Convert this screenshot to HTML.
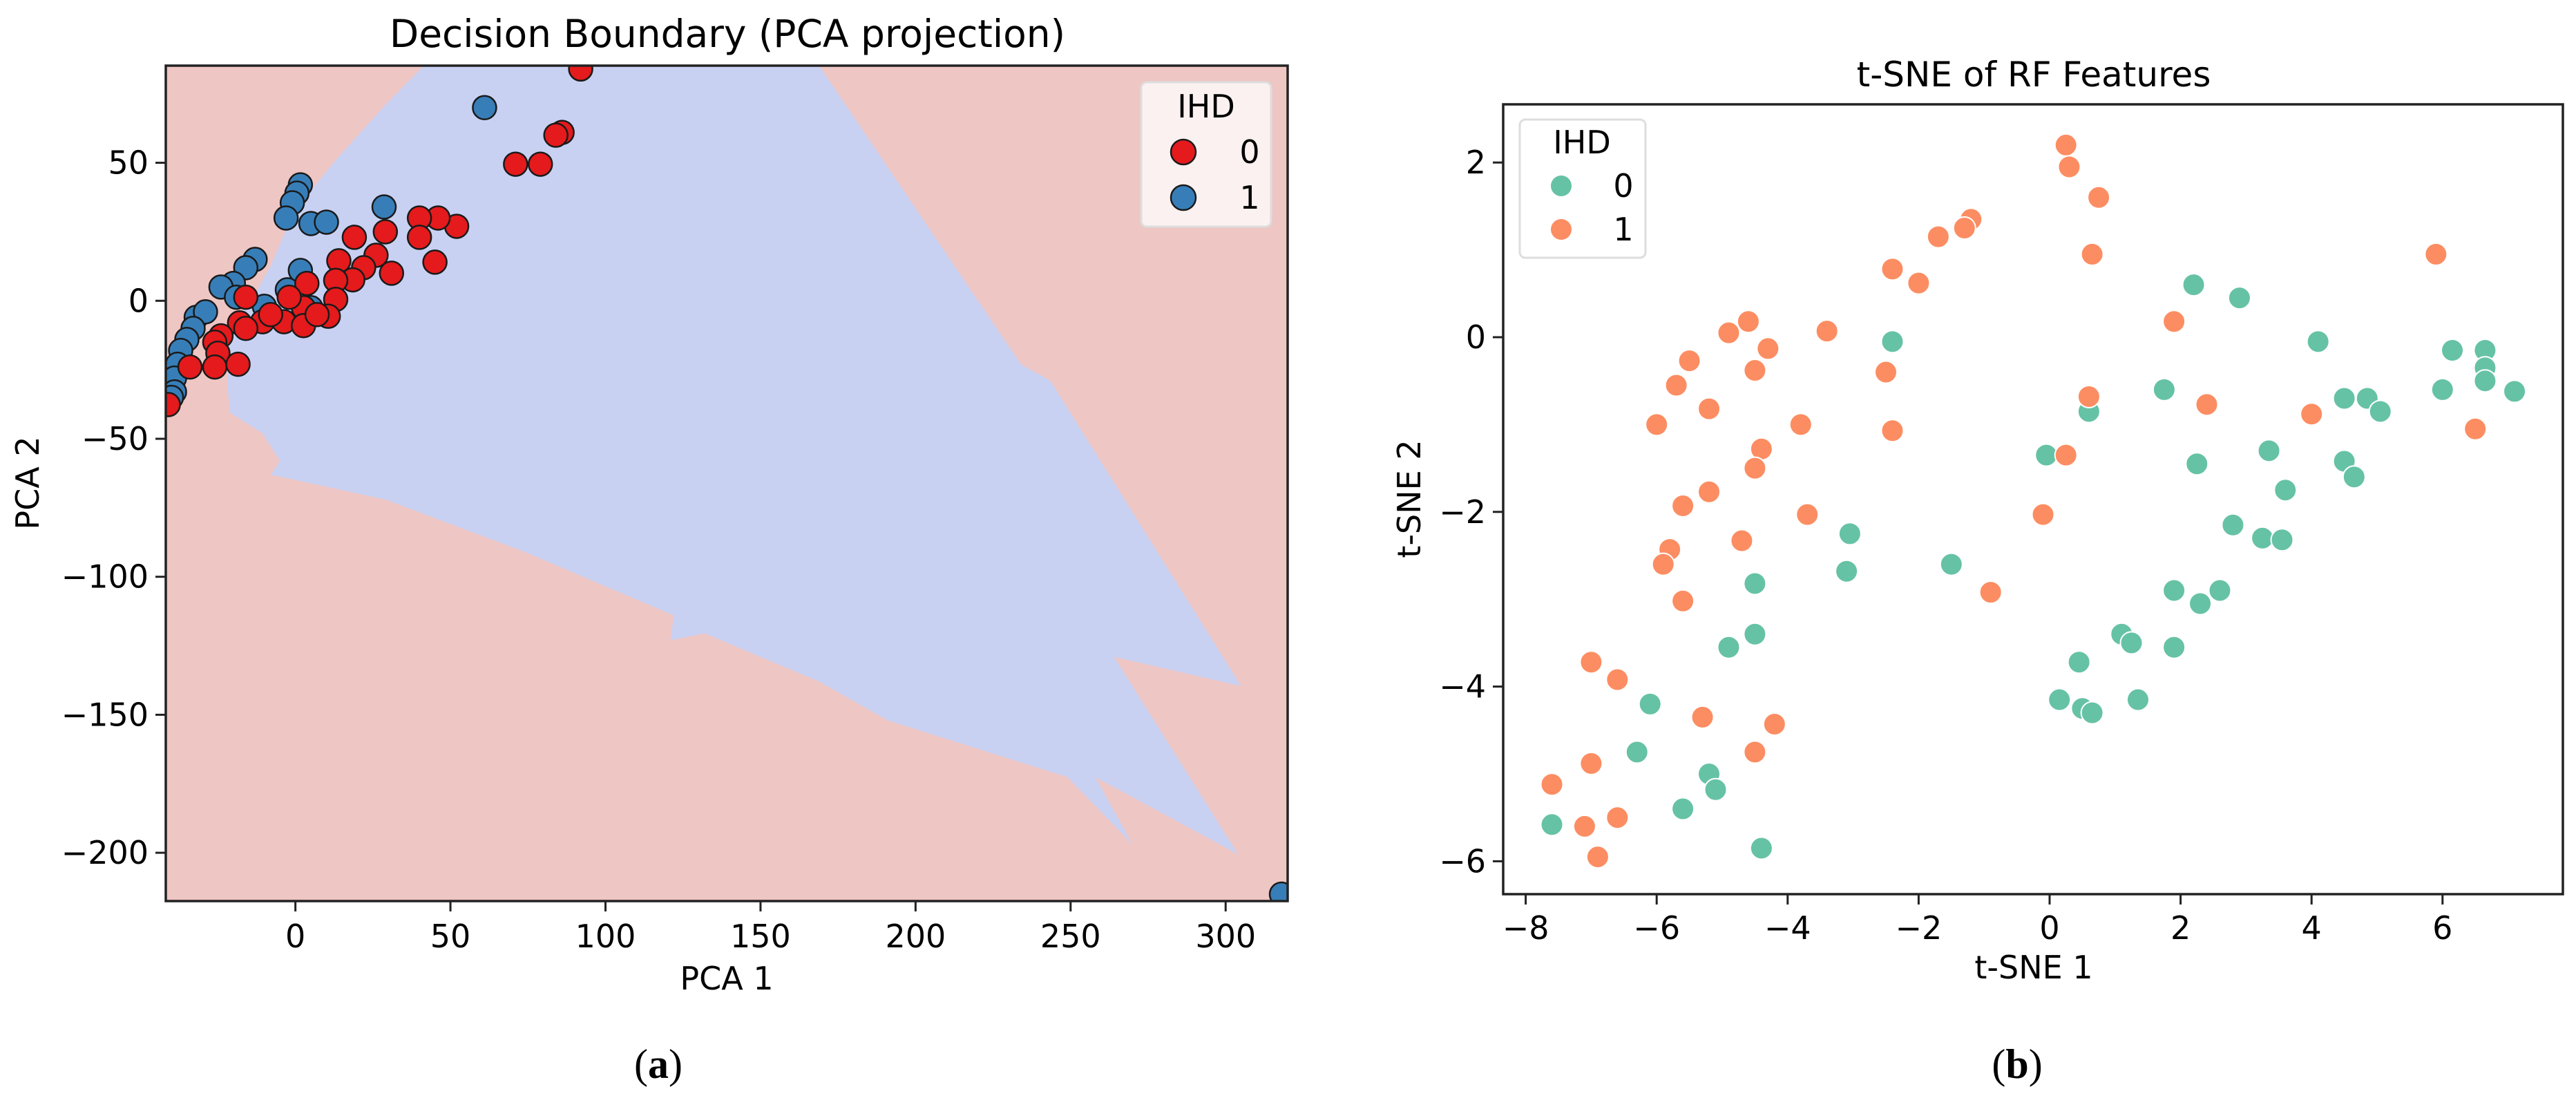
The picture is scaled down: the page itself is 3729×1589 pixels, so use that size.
<!DOCTYPE html>
<html><head><meta charset="utf-8"><style>
html,body{margin:0;padding:0;background:#fff;}
svg{display:block;font-family:"DejaVu Sans","Liberation Sans",sans-serif;}
</style></head><body>
<svg id="fig" width="3729" height="1589" viewBox="0 0 3729 1589" xmlns="http://www.w3.org/2000/svg">
<g id="pa"></g>
<g id="pb"></g>
<text x="953" y="1560" font-family="Liberation Serif, serif" font-size="60" text-anchor="middle">(<tspan font-weight="bold">a</tspan>)</text>
<text x="2920" y="1560" font-family="Liberation Serif, serif" font-size="60" text-anchor="middle">(<tspan font-weight="bold">b</tspan>)</text>
</svg>
<script>
// ---------- Panel A data ----------
const aXTicks = [0, 50, 100, 150, 200, 250, 300];
const aYTicks = [50, 0, -50, -100, -150, -200];
const aRedX = [92,86,84,71,79,52,46,40,40,45,29,19,26,31,22,18.5,14,13,13,10.6,3.7,2.6,-2,-3.7,2.6,-10.6,-16,-18,-24,-26,-25,-26,-34,-18.5,-41,-8,7,-16];
const aRedY = [84,61,60,49.5,49.5,27,30,30,23,14,25,23,16.5,10,12,7.6,14.5,7.4,0.5,-5.6,6.3,-2.5,1.3,-7.6,-9,-7.6,1.3,-8,-12.7,-15,-19,-24,-24,-23,-37.6,-5,-5,-10];
const aBlueX = [61,1.6,0.5,-1,-3,5,10,28.6,-13,-16,1.6,-20,-24,-19,-32,-29,-33,-35,-37,-38,-39,-39,-40,-2.6,5,-10,318];
const aBlueY = [70,42,39,35.5,30,28,28.5,34,15,12,11,6.3,5,1.3,-6,-4,-10,-14,-18,-23,-28,-33,-35,4,-2.5,-2,-215];
const regionX = [41.3,29,13,0,-4,-8,-13,-21,-22,-21,-10.6,-5,-8,29,74,122,121,132,169,191,249,270,258,304,264,305,243.5,234,169];
const regionY = [85,71,51,33,23,12.7,2.5,-10,-30.5,-40.6,-48,-58,-63,-72,-91,-114,-123,-120.5,-138,-152,-172.6,-197,-172.6,-200.5,-129,-139.6,-29,-23,85];

// ---------- Panel B data ----------
const bXTicks = [-8, -6, -4, -2, 0, 2, 4, 6];
const bYTicks = [2, 0, -2, -4, -6];
const bOrangeX = [0.25,0.3,0.75,0.65,-1.2,-1.3,-1.7,-2.4,-2.0,5.9,1.9,-3.4,-4.6,-4.9,-4.3,-4.5,-5.5,-5.7,-2.5,-2.4,0.6,2.4,-5.2,-6.0,-3.8,4.0,6.5,-4.4,0.25,-4.5,-5.2,-5.6,-3.7,-0.1,-4.7,-5.8,-5.9,-5.6,-0.9,-7.0,-6.6,-5.3,-4.2,-4.5,-7.0,-7.6,-7.1,-6.6,-6.9];
const bOrangeY = [2.2,1.95,1.6,0.95,1.35,1.25,1.15,0.78,0.62,0.95,0.18,0.07,0.18,0.05,-0.13,-0.38,-0.27,-0.55,-0.4,-1.07,-0.68,-0.77,-0.82,-1.0,-1.0,-0.88,-1.05,-1.28,-1.35,-1.5,-1.77,-1.93,-2.03,-2.03,-2.33,-2.43,-2.6,-3.02,-2.92,-3.72,-3.92,-4.35,-4.43,-4.75,-4.88,-5.12,-5.6,-5.5,-5.95];
const bGreenX = [2.2,2.9,-2.4,4.1,6.15,6.65,6.65,6.65,7.1,6.0,1.75,4.5,4.85,5.05,0.6,-0.05,3.35,2.25,4.5,4.65,3.6,2.8,3.25,3.55,-3.05,-3.1,-1.5,1.9,2.6,2.3,-4.5,-4.5,-4.9,1.1,1.25,1.9,0.45,0.15,0.5,0.65,1.35,-6.1,-6.3,-5.2,-5.1,-5.6,-7.6,-4.4];
const bGreenY = [0.6,0.45,-0.05,-0.05,-0.15,-0.15,-0.35,-0.5,-0.62,-0.6,-0.6,-0.7,-0.7,-0.85,-0.85,-1.35,-1.3,-1.45,-1.42,-1.6,-1.75,-2.15,-2.3,-2.32,-2.25,-2.68,-2.6,-2.9,-2.9,-3.05,-2.82,-3.4,-3.55,-3.4,-3.5,-3.55,-3.72,-4.15,-4.25,-4.3,-4.15,-4.2,-4.75,-5.0,-5.18,-5.4,-5.58,-5.85];

const NS = "http://www.w3.org/2000/svg";
function mk(tag, attrs, parent) {
  const e = document.createElementNS(NS, tag);
  for (const k in attrs) e.setAttribute(k, attrs[k]);
  parent.appendChild(e);
  return e;
}

// ---------- Panel A ----------
const A = {L:240, R:1864, T:95, B:1304, x0:-41.8, x1:320, y0:-217.5, y1:85.2};
const ax = v => A.L + (v - A.x0) / (A.x1 - A.x0) * (A.R - A.L);
const ay = v => A.B - (v - A.y0) / (A.y1 - A.y0) * (A.B - A.T);
const pa = document.getElementById('pa');
mk('defs', {}, pa).innerHTML = '<clipPath id="clipA"><rect x="240" y="95" width="1624" height="1209"/></clipPath><clipPath id="clipB"><rect x="2176" y="151" width="1534" height="1143"/></clipPath>';
const bg = mk('rect', {x:A.L, y:A.T, width:A.R-A.L, height:A.B-A.T, fill:'#eec6c4'}, pa);


const gA = mk('g', {'clip-path':'url(#clipA)'}, pa);


const reg = mk('polygon', {points: regionX.map((v,i)=>ax(v)+','+ay(regionY[i])).join(' '), fill:'#c8d1f2'}, gA);


function dotA(x, y, color, name) {
  const c = mk('circle', {cx:ax(x), cy:ay(y), r:17, fill:color, stroke:'#1a1a1a', 'stroke-width':2.5}, gA);
  
  
}
aBlueX.forEach((v,i)=>dotA(v, aBlueY[i], '#377eb8', 'point-ihd-1'));
aRedX.forEach((v,i)=>dotA(v, aRedY[i], '#e41a1c', 'point-ihd-0'));
const frA = mk('rect', {x:A.L, y:A.T, width:A.R-A.L, height:A.B-A.T, fill:'none', stroke:'#222', 'stroke-width':3.5}, pa);


aXTicks.forEach(v=>{
  const x = ax(v);
  const t = mk('line', {x1:x, y1:A.B, x2:x, y2:A.B+15, stroke:'#222', 'stroke-width':3}, pa);
  
  
  const l = mk('text', {x:x, y:A.B+67, 'font-size':46, 'text-anchor':'middle'}, pa);
  l.textContent = String(v).replace('-', '\u2212');
  
  
});
aYTicks.forEach(v=>{
  const y = ay(v);
  const t = mk('line', {x1:A.L-15, y1:y, x2:A.L, y2:y, stroke:'#222', 'stroke-width':3}, pa);
  
  
  const l = mk('text', {x:A.L-25, y:y+16, 'font-size':46, 'text-anchor':'end'}, pa);
  l.textContent = String(v).replace('-', '\u2212');
  
  
});
let t;
t = mk('text', {x:1053, y:68, 'font-size':55, 'text-anchor':'middle'}, pa); t.textContent = 'Decision Boundary (PCA projection)';


t = mk('text', {x:1052, y:1432, 'font-size':46, 'text-anchor':'middle'}, pa); t.textContent = 'PCA 1';


t = mk('text', {x:0, y:0, 'font-size':46, 'text-anchor':'middle', transform:'translate(56,699) rotate(-90)'}, pa); t.textContent = 'PCA 2';


const legA = mk('g', {}, pa);


mk('rect', {x:1652, y:119, width:188, height:209, rx:8, fill:'#fbf1f0', stroke:'#ddd', 'stroke-width':3}, legA);
t = mk('text', {x:1746, y:170, 'font-size':46, 'text-anchor':'middle'}, legA); t.textContent = 'IHD';


[['#e41a1c','0',220],['#377eb8','1',286]].forEach(e=>{
  const c = mk('circle', {cx:1713, cy:e[2], r:18, fill:e[0], stroke:'#1a1a1a', 'stroke-width':2.5}, legA);
  
  
  const l = mk('text', {x:1809, y:e[2]+16, 'font-size':46, 'text-anchor':'middle'}, legA); l.textContent = e[1];
  
  
});

// ---------- Panel B ----------
const B = {L:2176, R:3710, T:151, B:1294};
const bx = v => 2967 + v * 94.8;
const by = v => 488 - v * 126.4;
const pb = document.getElementById('pb');
const gB = mk('g', {'clip-path':'url(#clipB)'}, pb);


function dotB(x, y, color, name) {
  const c = mk('circle', {cx:bx(x), cy:by(y), r:16, fill:color, stroke:'#fff', 'stroke-width':2}, gB);
  
  
}
bGreenX.forEach((v,i)=>dotB(v, bGreenY[i], '#66c2a5', 'point-ihd-0'));
bOrangeX.forEach((v,i)=>dotB(v, bOrangeY[i], '#fc8d62', 'point-ihd-1'));
const frB = mk('rect', {x:B.L, y:B.T, width:B.R-B.L, height:B.B-B.T, fill:'none', stroke:'#222', 'stroke-width':3.5}, pb);


bXTicks.forEach(v=>{
  const x = bx(v);
  const tk = mk('line', {x1:x, y1:B.B, x2:x, y2:B.B+15, stroke:'#222', 'stroke-width':3}, pb);
  
  
  const l = mk('text', {x:x, y:B.B+65, 'font-size':46, 'text-anchor':'middle'}, pb);
  l.textContent = String(v).replace('-', '\u2212');
  
  
});
bYTicks.forEach(v=>{
  const y = by(v);
  const tk = mk('line', {x1:B.L-15, y1:y, x2:B.L, y2:y, stroke:'#222', 'stroke-width':3}, pb);
  
  
  const l = mk('text', {x:B.L-25, y:y+16, 'font-size':46, 'text-anchor':'end'}, pb);
  l.textContent = String(v).replace('-', '\u2212');
  
  
});
t = mk('text', {x:2944, y:125, 'font-size':50, 'text-anchor':'middle'}, pb); t.textContent = 't-SNE of RF Features';


t = mk('text', {x:2944, y:1416, 'font-size':46, 'text-anchor':'middle'}, pb); t.textContent = 't-SNE 1';


t = mk('text', {x:0, y:0, 'font-size':46, 'text-anchor':'middle', transform:'translate(2056,722) rotate(-90)'}, pb); t.textContent = 't-SNE 2';


const legB = mk('g', {}, pb);


mk('rect', {x:2200, y:173, width:182, height:200, rx:8, fill:'#fff', stroke:'#ddd', 'stroke-width':3}, legB);
t = mk('text', {x:2290, y:222, 'font-size':46, 'text-anchor':'middle'}, legB); t.textContent = 'IHD';


[['#66c2a5','0',269],['#fc8d62','1',332]].forEach(e=>{
  const c = mk('circle', {cx:2260, cy:e[2], r:15, fill:e[0]}, legB);
  
  
  const l = mk('text', {x:2350, y:e[2]+16, 'font-size':46, 'text-anchor':'middle'}, legB); l.textContent = e[1];
  
  
});
</script>
</body></html>
